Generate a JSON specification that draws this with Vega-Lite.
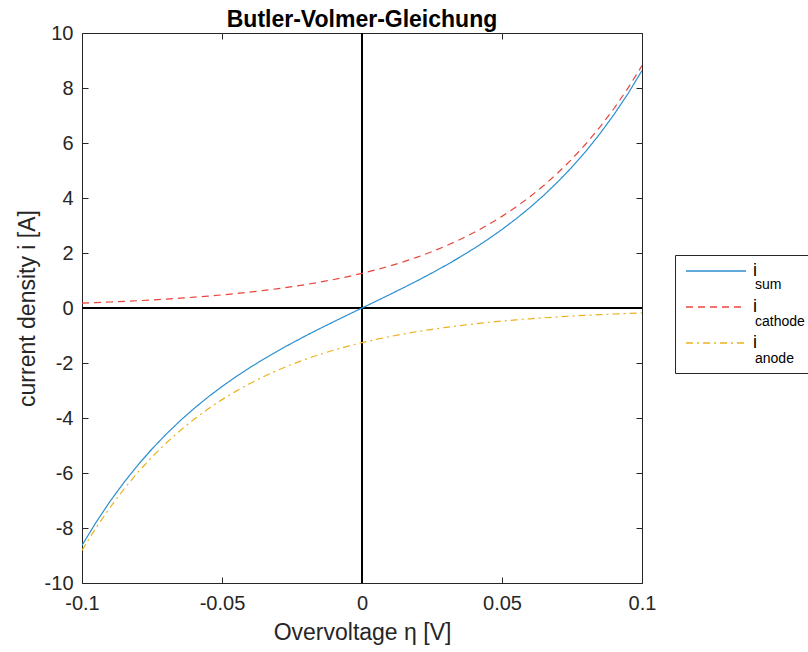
{
  "$schema": "https://vega.github.io/schema/vega-lite/v6.json",
  "autosize": "none",
  "padding": {"left": 82, "top": 33, "right": 166, "bottom": 69},
  "width": 560,
  "height": 550,
  "background": "white",
  "title": {"text": "Butler-Volmer-Gleichung", "font": "Liberation Sans", "fontSize": 23, "fontWeight": "bold", "color": "#000", "offset": -9},
  "config": {
    "view": {"stroke": "#262626", "strokeWidth": 1},
    "axis": {"labelFont": "Liberation Sans", "titleFont": "Liberation Sans", "labelFontSize": 20, "titleFontSize": 23, "labelColor": "#262626", "titleColor": "#262626", "domain": false, "grid": false, "tickColor": "#262626", "tickSize": -6, "titleFontWeight": "normal", "labelExpr": "'' + datum.value"}
  },
  "data": {"values": [
    {"eta": -0.1, "sum": -8.632, "cathode": 0.180, "anode": -8.812},
    {"eta": -0.095, "sum": -7.796, "cathode": 0.199, "anode": -7.995},
    {"eta": -0.09, "sum": -7.035, "cathode": 0.219, "anode": -7.254},
    {"eta": -0.085, "sum": -6.341, "cathode": 0.241, "anode": -6.582},
    {"eta": -0.08, "sum": -5.706, "cathode": 0.266, "anode": -5.972},
    {"eta": -0.075, "sum": -5.126, "cathode": 0.293, "anode": -5.419},
    {"eta": -0.07, "sum": -4.594, "cathode": 0.323, "anode": -4.917},
    {"eta": -0.065, "sum": -4.105, "cathode": 0.356, "anode": -4.461},
    {"eta": -0.06, "sum": -3.656, "cathode": 0.392, "anode": -4.048},
    {"eta": -0.055, "sum": -3.240, "cathode": 0.432, "anode": -3.672},
    {"eta": -0.05, "sum": -2.856, "cathode": 0.476, "anode": -3.332},
    {"eta": -0.045, "sum": -2.498, "cathode": 0.525, "anode": -3.023},
    {"eta": -0.04, "sum": -2.164, "cathode": 0.579, "anode": -2.743},
    {"eta": -0.035, "sum": -1.851, "cathode": 0.638, "anode": -2.489},
    {"eta": -0.03, "sum": -1.555, "cathode": 0.703, "anode": -2.258},
    {"eta": -0.025, "sum": -1.274, "cathode": 0.775, "anode": -2.049},
    {"eta": -0.02, "sum": -1.005, "cathode": 0.854, "anode": -1.859},
    {"eta": -0.015, "sum": -0.746, "cathode": 0.941, "anode": -1.687},
    {"eta": -0.01, "sum": -0.494, "cathode": 1.037, "anode": -1.531},
    {"eta": -0.005, "sum": -0.246, "cathode": 1.143, "anode": -1.389},
    {"eta": 0, "sum": 0, "cathode": 1.26, "anode": -1.26},
    {"eta": 0.005, "sum": 0.246, "cathode": 1.389, "anode": -1.143},
    {"eta": 0.01, "sum": 0.494, "cathode": 1.531, "anode": -1.037},
    {"eta": 0.015, "sum": 0.746, "cathode": 1.687, "anode": -0.941},
    {"eta": 0.02, "sum": 1.005, "cathode": 1.859, "anode": -0.854},
    {"eta": 0.025, "sum": 1.274, "cathode": 2.049, "anode": -0.775},
    {"eta": 0.03, "sum": 1.555, "cathode": 2.258, "anode": -0.703},
    {"eta": 0.035, "sum": 1.851, "cathode": 2.489, "anode": -0.638},
    {"eta": 0.04, "sum": 2.164, "cathode": 2.743, "anode": -0.579},
    {"eta": 0.045, "sum": 2.498, "cathode": 3.023, "anode": -0.525},
    {"eta": 0.05, "sum": 2.856, "cathode": 3.332, "anode": -0.476},
    {"eta": 0.055, "sum": 3.240, "cathode": 3.672, "anode": -0.432},
    {"eta": 0.06, "sum": 3.656, "cathode": 4.048, "anode": -0.392},
    {"eta": 0.065, "sum": 4.105, "cathode": 4.461, "anode": -0.356},
    {"eta": 0.07, "sum": 4.594, "cathode": 4.917, "anode": -0.323},
    {"eta": 0.075, "sum": 5.126, "cathode": 5.419, "anode": -0.293},
    {"eta": 0.08, "sum": 5.706, "cathode": 5.972, "anode": -0.266},
    {"eta": 0.085, "sum": 6.341, "cathode": 6.582, "anode": -0.241},
    {"eta": 0.09, "sum": 7.035, "cathode": 7.254, "anode": -0.219},
    {"eta": 0.095, "sum": 7.796, "cathode": 7.995, "anode": -0.199},
    {"eta": 0.1, "sum": 8.632, "cathode": 8.812, "anode": -0.180}
  ]},
  "resolve": {"axis": {"x": "independent", "y": "independent"}},
  "layer": [
    {
      "mark": {"type": "rule", "color": "#000", "strokeWidth": 1.3},
      "encoding": {
        "x": {"datum": 0, "type": "quantitative", "scale": {"domain": [-0.1, 0.1], "nice": false}, "axis": {"orient": "top", "labels": false, "title": null, "values": [-0.1, -0.05, 0, 0.05, 0.1]}}
      }
    },
    {
      "mark": {"type": "rule", "color": "#000", "strokeWidth": 1.3},
      "encoding": {
        "y": {"datum": 0, "type": "quantitative", "scale": {"domain": [-10, 10], "nice": false}, "axis": {"orient": "right", "labels": false, "title": null, "values": [-10, -8, -6, -4, -2, 0, 2, 4, 6, 8, 10]}}
      }
    },
    {
      "transform": [{"fold": ["sum", "cathode", "anode"], "as": ["series", "i"]}],
      "mark": {"type": "line", "strokeWidth": 1.2, "clip": true},
      "encoding": {
        "x": {"field": "eta", "type": "quantitative", "scale": {"domain": [-0.1, 0.1], "nice": false}, "axis": {"orient": "bottom", "values": [-0.1, -0.05, 0, 0.05, 0.1], "labelPadding": 16, "title": "Overvoltage η [V]", "titlePadding": 8, "labelFlush": false}},
        "y": {"field": "i", "type": "quantitative", "scale": {"domain": [-10, 10], "nice": false}, "axis": {"orient": "left", "values": [-10, -8, -6, -4, -2, 0, 2, 4, 6, 8, 10], "labelPadding": 15, "title": "current density i [A]", "titlePadding": 5}},
        "color": {"field": "series", "type": "nominal", "scale": {"domain": ["sum", "cathode", "anode"], "range": ["#2b8fd0", "#e8453c", "#edb120"]},
          "legend": {"orient": "none", "legendX": 593, "legendY": 222, "title": null, "symbolType": "M-1,0H11", "symbolSize": 100, "symbolStrokeWidth": 1.3, "labelFont": "Liberation Sans", "labelFontSize": 18, "labelColor": "#000", "labelExpr": "'i'", "padding": 7, "rowPadding": 18, "labelOffset": 53}},
        "strokeDash": {"field": "series", "type": "nominal", "scale": {"domain": ["sum", "cathode", "anode"], "range": [[1, 0], [7, 5], [7, 4, 2, 4]]}},
        "opacity": {"field": "series", "type": "nominal", "sort": ["sum", "cathode", "anode"], "scale": {"range": [1, 1, 1]},
          "legend": {"orient": "none", "legendX": 593, "legendY": 222, "title": null, "symbolType": "M-1,0H11", "symbolSize": 100, "symbolOpacity": 0, "symbolStrokeWidth": 0, "labelFont": "Liberation Sans", "labelFontSize": 14, "labelColor": "#000", "padding": 7, "rowPadding": 7, "labelOffset": 59, "strokeColor": "#262626",
            "encode": {"labels": {"update": {"dy": {"value": 16}}}}}}
      }
    }
  ]
}
